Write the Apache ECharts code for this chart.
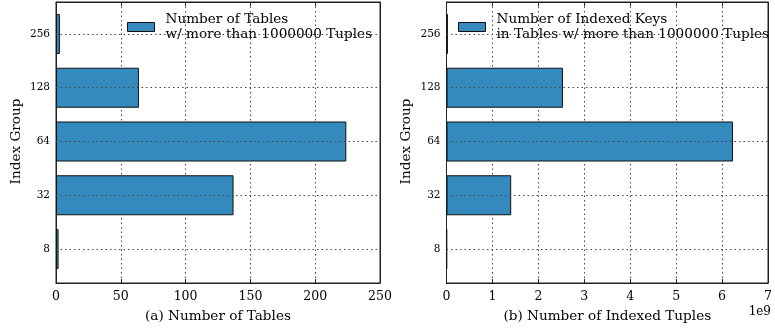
<!DOCTYPE html>
<html>
<head>
<meta charset="utf-8">
<script src="https://cdn.jsdelivr.net/npm/echarts@6/dist/echarts.min.js"></script>
<style>
  html, body { margin: 0; padding: 0; background: #fff; }
  #chart { width: 775px; height: 330px; }
</style>
</head>
<body>
<div id="chart"></div>
<script>
// index groups, bottom to top
const categories = ['8', '32', '64', '128', '256'];
const tableCounts = [2, 137, 224, 64, 3];
const indexedTuples = [0.008e9, 1.4e9, 6.2e9, 2.52e9, 0.03e9];
const tableTicks = { max: 250, interval: 50 };
const tupleTicks = { max: 7e9, interval: 1e9 };

const font = 'DejaVu Serif';
const ink = '#222';
const barBlue = '#348ABD';
const dotted = { color: '#444', width: 1, type: [1.5, 3] };

const chart = echarts.init(document.getElementById('chart'));

const grids = [], xAxes = [], yAxes = [], series = [], legends = [];

function addPanel(p) {
    const g0 = grids.length;
    // frame grid (full box) and bar grid (category bands)
    grids.push({ left: p.left, right: p.right, top: 2, bottom: 47, show: true, borderColor: ink, borderWidth: 1, backgroundColor: 'transparent' });
    grids.push({ left: p.left, right: p.right, top: 7.1, bottom: 54.1 });
    const g1 = g0 + 1;

    const xb = xAxes.length;
    xAxes.push({
        type: 'value', gridIndex: g0, position: 'bottom', min: 0, max: p.max, interval: p.interval,
        axisLine: { show: true, onZero: false, lineStyle: { color: ink, width: 1 } },
        axisTick: { inside: true, length: 4, lineStyle: { color: ink } },
        axisLabel: { color: '#000', fontFamily: font, fontSize: 12.5, margin: 7, formatter: p.fmt },
        splitLine: { show: true, lineStyle: dotted },
        name: p.xName, nameLocation: 'middle', nameGap: 26,
        nameTextStyle: { color: '#000', fontFamily: font, fontSize: 13.6 }
    });
    xAxes.push({
        type: 'value', gridIndex: g0, position: 'top', min: 0, max: p.max, interval: p.interval,
        axisLine: { show: true, onZero: false, lineStyle: { color: ink, width: 1 } },
        axisTick: { inside: true, length: 4, lineStyle: { color: ink } },
        axisLabel: { show: false }, splitLine: { show: false }
    });
    xAxes.push({ type: 'value', gridIndex: g1, min: 0, max: p.max, show: false });

    const yb = yAxes.length;
    ['left', 'right'].forEach((pos) => {
        yAxes.push({
            type: 'value', gridIndex: g0, position: pos, min: 0, max: 1,
            axisLine: { show: true, onZero: false, lineStyle: { color: ink, width: 1 } },
            axisTick: { show: false }, axisLabel: { show: false }, splitLine: { show: false }
        });
    });
    yAxes.push({
        type: 'category', gridIndex: g1, position: 'left', data: categories,
        axisLine: { show: false },
        axisTick: { inside: true, alignWithLabel: true, length: 4, lineStyle: { color: ink } },
        axisLabel: { color: '#000', fontFamily: font, fontSize: 10.5, margin: 6 },
        name: 'Index Group', nameLocation: 'middle', nameGap: 33,
        nameTextStyle: { color: '#000', fontFamily: font, fontSize: 13.6 }
    });
    yAxes.push({
        type: 'category', gridIndex: g1, position: 'right', data: categories,
        axisLine: { show: false },
        axisTick: { inside: true, alignWithLabel: true, length: 4, lineStyle: { color: ink } },
        axisLabel: { show: false }
    });

    // horizontal dotted grid lines at category centres, drawn under the bars
    series.push({
        type: 'line', xAxisIndex: xb + 2, yAxisIndex: yb + 2, data: [], z: 1, silent: true,
        markLine: {
            silent: true, symbol: 'none', label: { show: false },
            lineStyle: dotted,
            data: categories.map((c) => ({ yAxis: c }))
        }
    });
    series.push({
        type: 'bar', name: p.legend, xAxisIndex: xb + 2, yAxisIndex: yb + 2,
        data: p.data, barWidth: 40, z: 3,
        itemStyle: { color: barBlue, borderColor: '#111', borderWidth: 1 }
    });
    legends.push({
        data: [p.legend], left: p.legendLeft, top: 12, padding: 0, orient: 'vertical',
        icon: 'rect', itemWidth: 27, itemHeight: 9,
        itemStyle: { color: barBlue, borderColor: '#111', borderWidth: 1 },
        textStyle: { color: '#000', fontFamily: font, fontSize: 13.6, lineHeight: 15, padding: [0, 0, 0, 6] }
    });
}

addPanel({
    left: 56, right: 395, max: tableTicks.max, interval: tableTicks.interval,
    data: tableCounts, xName: '(a) Number of Tables',
    legend: 'Number of Tables\nw/ more than 1000000 Tuples', legendLeft: 127,
    fmt: (v) => String(v)
});
addPanel({
    left: 446.5, right: 5, max: tupleTicks.max, interval: tupleTicks.interval,
    data: indexedTuples, xName: '(b) Number of Indexed Tuples',
    legend: 'Number of Indexed Keys\nin Tables w/ more than 1000000 Tuples', legendLeft: 458,
    fmt: (v) => String(Math.round(v / 1e9))
});

chart.setOption({
    animation: false,
    backgroundColor: '#fff',
    title: {
        text: '1e9', right: 4, top: 306, padding: 0,
        textStyle: { color: '#000', fontFamily: font, fontSize: 12, fontWeight: 'normal' }
    },
    legend: legends,
    grid: grids,
    xAxis: xAxes,
    yAxis: yAxes,
    series: series
});
</script>
</body>
</html>
